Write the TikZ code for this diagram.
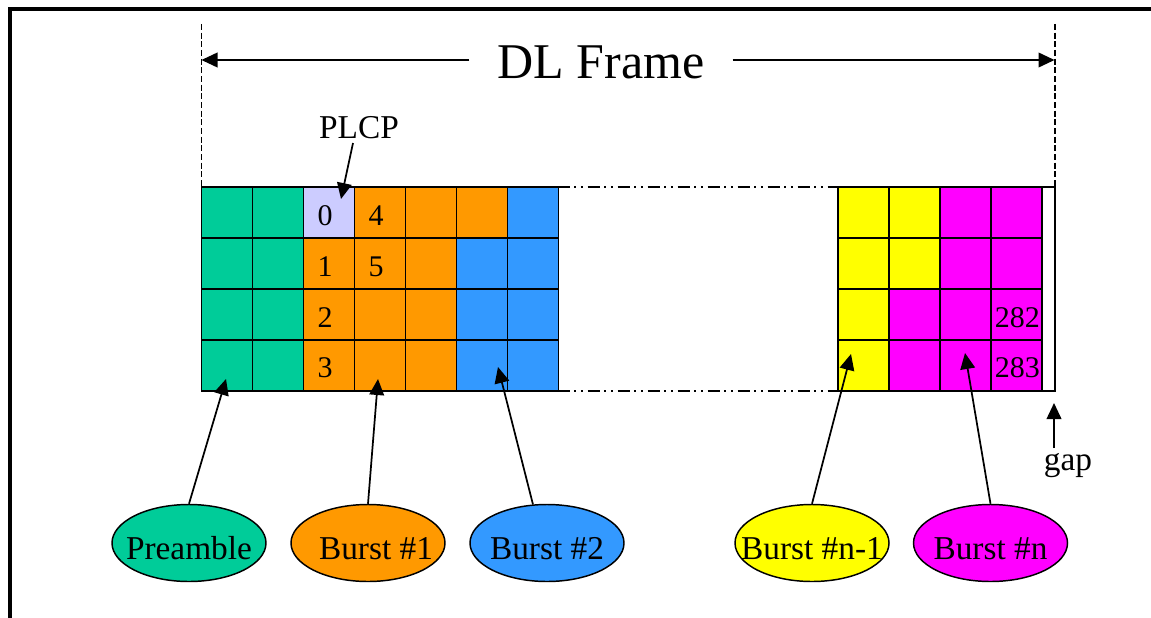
\documentclass[tikz,border=0pt]{standalone}
\usepackage{fontspec}
\setmainfont{Liberation Serif}
\usetikzlibrary{arrows.meta,shapes.geometric}
\definecolor{cteal}{HTML}{00CC99}
\definecolor{clav}{HTML}{CCCCFF}
\definecolor{corange}{HTML}{FF9900}
\definecolor{cblue}{HTML}{3399FF}
\definecolor{cyellow}{HTML}{FFFF00}
\definecolor{cmagenta}{HTML}{FF00FF}
\tikzset{
  cellbox/.style={draw=black, line width=1.3pt},
  arr/.style={-{Triangle[length=12pt,width=11pt]}, line width=1.3pt},
  dashv/.style={line width=1.4pt, dash pattern=on 4.5pt off 2pt},
  dashdotdot/.style={line width=1.4pt, dash pattern=on 9pt off 3.5pt on 1.5pt off 3.5pt on 1.5pt off 3.5pt},
  digit/.style={inner sep=0pt, font=\fontsize{22.5}{27}\selectfont},
  lab/.style={font=\fontsize{25}{30}\selectfont},
  burst/.style={ellipse, draw=black, line width=1.1pt, minimum width=115.5pt, minimum height=57.75pt,
    inner sep=0pt, text height=24pt, text depth=0pt, font=\fontsize{25}{30}\selectfont}
}
\begin{document}
\begin{tikzpicture}[x=0.75pt,y=-0.75pt]
\useasboundingbox (0,0) rectangle (1151,617);
\begin{scope}
  \clip (0,0) rectangle (1151,617);
  \draw[line width=2.6pt] (10,640) -- (10,9) -- (1170,9);
\end{scope}

% left grid
\foreach \c/\r/\col in {0/0/cteal,0/1/cteal,0/2/cteal,0/3/cteal,
                        1/0/cteal,1/1/cteal,1/2/cteal,1/3/cteal,
                        2/0/clav,2/1/corange,2/2/corange,2/3/corange,
                        3/0/corange,3/1/corange,3/2/corange,3/3/corange,
                        4/0/corange,4/1/corange,4/2/corange,4/3/corange,
                        5/0/corange,5/1/cblue,5/2/cblue,5/3/cblue,
                        6/0/cblue,6/1/cblue,6/2/cblue,6/3/cblue}
  \draw[cellbox, fill=\col] ({201.5+51*\c},{187+51*\r}) rectangle ++(51,51);

% right grid
\foreach \c/\r/\col in {0/0/cyellow,0/1/cyellow,0/2/cyellow,0/3/cyellow,
                        1/0/cyellow,1/1/cyellow,1/2/cmagenta,1/3/cmagenta,
                        2/0/cmagenta,2/1/cmagenta,2/2/cmagenta,2/3/cmagenta,
                        3/0/cmagenta,3/1/cmagenta,3/2/cmagenta,3/3/cmagenta}
  \draw[cellbox, fill=\col] ({838+51*\c},{187+51*\r}) rectangle ++(51,51);
\draw[cellbox] (1042,187) -- (1055,187) -- (1055,391) -- (1042,391);

% dash-dot-dot continuation
\draw[dashdotdot] (557.5,187) -- (838,187);
\draw[dashdotdot] (557.5,391) -- (838,391);

% dashed frame limits
\draw[dashv] (201.5,24) -- (201.5,187);
\draw[dashv] (1055,24) -- (1055,187);

% DL Frame
\node[font=\fontsize{37.5}{45}\selectfont, anchor=base, inner xsep=21pt] (dl) at (601,79) {DL Frame};
\coordinate (L) at (201.5,60);
\coordinate (R) at (1054.5,60);
\draw[arr] (dl.west |- L) -- (L);
\draw[arr] (dl.east |- R) -- (R);

% digits
\node[digit, anchor=base] (d0) at (325,225) {0};
\node[digit, anchor=base] (d1) at (325,276) {1};
\node[digit, anchor=base] (d2) at (325,327) {2};
\node[digit, anchor=base] (d3) at (325,377) {3};
\node[digit, anchor=base] (d4) at (376,225) {4};
\node[digit, anchor=base] (d5) at (376,276) {5};
\node[digit, anchor=base east] (d282) at (1040,327) {282};
\node[digit, anchor=base east] (d283) at (1040,377) {283};

% PLCP
\node[lab, anchor=base] (plcp) at (359,138) {PLCP};
\coordinate (plcptip) at (341,199);
\draw[arr] ([xshift=-4.5pt]plcp.south) -- (plcptip);

% gap
\node[lab, anchor=base] (gap) at (1068,470) {gap};
\coordinate (gaptip) at (1054,403);
\draw[arr] (gap.north -| gaptip) -- (gaptip);

% ellipses
\node[burst, fill=cteal] (pre) at (189,543) {\makebox[0pt]{Preamble}};
\node[burst, fill=corange] (b1) at (368,543) {\makebox[0pt]{\hspace*{12pt}Burst \#1}};
\node[burst, fill=cblue] (b2) at (547,543) {\makebox[0pt]{Burst \#2}};
\node[burst, fill=cyellow] (bn1) at (812,543) {\makebox[0pt]{Burst \#n-1}};
\node[burst, fill=cmagenta] (bn) at (990.5,543) {\makebox[0pt]{Burst \#n}};

\coordinate (tpre) at (226,379);
\coordinate (tb1) at (378,379);
\coordinate (tb2) at (498,367);
\coordinate (tbn1) at (851,354);
\coordinate (tbn) at (965,353);
\draw[arr] (pre.north) -- (tpre);
\draw[arr] (b1.north) -- (tb1);
\draw[arr] (b2.110) -- (tb2);
\draw[arr] (bn1.north) -- (tbn1);
\draw[arr] (bn.north) -- (tbn);
\end{tikzpicture}
\end{document}
